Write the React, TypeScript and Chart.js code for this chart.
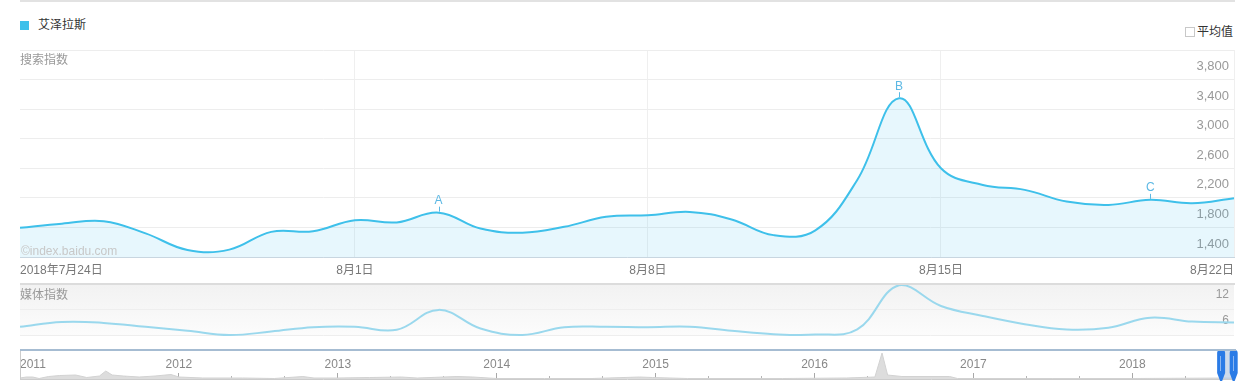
import React, { useEffect, useRef } from 'react';
import { Chart, registerables } from 'chart.js';

Chart.register(...registerables);

const FONT = 'Arial, "Liberation Sans", "Noto Sans CJK SC", sans-serif';
Chart.defaults.font.family = FONT;

// ---------- data ----------
const categories = [
  '7月24日', '7月25日', '7月26日', '7月27日', '7月28日', '7月29日', '7月30日', '7月31日',
  '8月1日', '8月2日', '8月3日', '8月4日', '8月5日', '8月6日', '8月7日', '8月8日',
  '8月9日', '8月10日', '8月11日', '8月12日', '8月13日', '8月14日', '8月15日', '8月16日',
  '8月17日', '8月18日', '8月19日', '8月20日', '8月21日', '8月22日',
];
const searchIndex = [
  1795, 1850, 1885, 1720, 1495, 1500, 1740, 1748, 1898, 1868,
  2000, 1785, 1728, 1808, 1943, 1966, 2010, 1908, 1696, 1760,
  2442, 3548, 2600, 2375, 2308, 2150, 2105, 2173, 2128, 2196,
];
const mediaIndex = [
  7.9, 9.0, 8.8, 7.9, 7.0, 6.0, 6.8, 7.8, 7.9, 7.2,
  11.8, 7.5, 6.0, 7.8, 7.9, 7.8, 7.9, 7.0, 6.2, 6.1,
  7.3, 17.5, 12.7, 10.4, 8.5, 7.3, 7.7, 10.0, 9.1, 8.9,
];
const labeledTickIndices = [0, 8, 15, 22, 29];
const firstTickPrefix = '2018年';
const searchAxis = { min: 1400, max: 4200, step: 400 };
const mediaTicks = [6, 12, 18];
const mediaAxis = { min: 4.62, max: 18 };
const flagIndices = [10, 21, 27];
const flagLabels = ['A', 'B', 'C'];

const navX = [
  2011.0, 2011.04, 2011.08, 2011.12, 2011.18, 2011.25, 2011.35, 2011.42, 2011.5, 2011.54,
  2011.58, 2011.65, 2011.75, 2011.85, 2011.95, 2012.0, 2012.15, 2012.4, 2012.6, 2012.78,
  2012.85, 2013.0, 2013.2, 2013.4, 2013.5, 2013.75, 2013.85, 2014.0, 2014.3, 2014.6,
  2014.9, 2014.98, 2015.2, 2015.8, 2016.2, 2016.38, 2016.425, 2016.46, 2016.55, 2016.85,
  2016.9, 2017.5, 2018.0, 2018.64,
];
const navValues = [
  1, 2, 2, 0.5, 2.5, 3.5, 4, 1.5, 3, 8,
  4, 3, 2, 3, 4.5, 2, 1, 1, 0.5, 2.5,
  1, 1, 1.5, 2, 1, 2.5, 2, 0.5, 0.5, 0.5,
  2, 1.5, 0.5, 0.5, 1, 2, 26, 4, 2.5, 2.5,
  0.5, 0.5, 0.5, 1,
];
const navYears = [2011, 2012, 2013, 2014, 2015, 2016, 2017, 2018];
const navRange = { min: 2011, max: 2018.64 };
const handleRange = { start: 2018.559, end: 2018.638 };

// ---------- helpers ----------
const fmt = (v: number) => String(v).replace(/\B(?=(\d{3})+(?!\d))/g, ',');

const flagPlugin = {
  id: 'flags',
  afterDatasetsDraw(chart: any) {
    const meta = chart.getDatasetMeta(0);
    const ctx = chart.ctx;
    ctx.save();
    ctx.strokeStyle = '#5cb8e4';
    ctx.fillStyle = '#5cb8e4';
    ctx.lineWidth = 1;
    ctx.font = '12px ' + FONT;
    ctx.textAlign = 'center';
    ctx.textBaseline = 'middle';
    flagIndices.forEach((idx, k) => {
      const p = meta.data[idx];
      if (!p) return;
      const x = Math.round(p.x) + 0.5;
      ctx.beginPath();
      ctx.moveTo(x, p.y - 1);
      ctx.lineTo(x, p.y - 6);
      ctx.stroke();
      ctx.fillText(flagLabels[k], p.x, p.y - 12);
    });
    ctx.restore();
  },
};

const handlePlugin = {
  id: 'handles',
  afterDraw(chart: any) {
    const xs = chart.scales.x;
    const ca = chart.chartArea;
    const ctx = chart.ctx;
    const x1 = xs.getPixelForValue(handleRange.start);
    const x2 = xs.getPixelForValue(handleRange.end);
    ctx.save();
    ctx.fillStyle = 'rgba(185,204,226,0.7)';
    ctx.fillRect(x1, ca.top, x2 - x1, ca.bottom - ca.top);
    const drawHandle = (cx: number) => {
      const w = 8;
      const l = cx - w / 2;
      const r = cx + w / 2;
      const top = ca.top - 1;
      const mid = ca.bottom - 6;
      const bot = ca.bottom + 2;
      const rad = 3;
      ctx.beginPath();
      ctx.moveTo(l, top + rad);
      ctx.quadraticCurveTo(l, top, l + rad, top);
      ctx.lineTo(r - rad, top);
      ctx.quadraticCurveTo(r, top, r, top + rad);
      ctx.lineTo(r, mid);
      ctx.lineTo(cx + 1, bot);
      ctx.lineTo(cx - 1, bot);
      ctx.lineTo(l, mid);
      ctx.closePath();
      ctx.fillStyle = '#2a7be6';
      ctx.fill();
      ctx.strokeStyle = 'rgba(255,255,255,0.45)';
      ctx.lineWidth = 1;
      ctx.beginPath();
      ctx.moveTo(Math.round(cx) - 0.5, top + 6);
      ctx.lineTo(Math.round(cx) - 0.5, mid - 2);
      ctx.stroke();
    };
    drawHandle(x1);
    drawHandle(x2);
    ctx.restore();
  },
};

const flatY = (s: any) => {
  s.width = 0;
  s.paddingTop = 0;
  s.paddingBottom = 0;
};

function useChart(ref: React.RefObject<HTMLCanvasElement>, make: (c: HTMLCanvasElement) => Chart) {
  useEffect(() => {
    if (!ref.current) return;
    const chart = make(ref.current);
    return () => chart.destroy();
  }, []);
}

export default function App() {
  const mainRef = useRef<HTMLCanvasElement>(null);
  const mediaRef = useRef<HTMLCanvasElement>(null);
  const navRef = useRef<HTMLCanvasElement>(null);

  useChart(mainRef as any, (c) =>
    new Chart(c, {
      type: 'line',
      data: {
        labels: categories,
        datasets: [
          {
            data: searchIndex,
            borderColor: '#3ec0ea',
            borderWidth: 2,
            backgroundColor: 'rgba(60,190,235,0.12)',
            fill: 'start',
            pointRadius: 0,
            tension: 0.4,
          },
        ],
      },
      options: {
        animation: false,
        responsive: false,
        maintainAspectRatio: false,
        layout: { padding: { left: 20, right: 14, top: 6, bottom: 0 } },
        plugins: { legend: { display: false }, tooltip: { enabled: false } },
        scales: {
          x: {
            grid: {
              color: (ctx: any) =>
                ctx.index > 0 && labeledTickIndices.includes(ctx.index) ? '#efefef' : 'rgba(0,0,0,0)',
              drawTicks: false,
            },
            border: { color: '#c8d6e0', width: 1 },
            ticks: {
              autoSkip: false,
              maxRotation: 0,
              minRotation: 0,
              align: 'inner',
              padding: 6,
              color: '#777',
              font: { size: 12 },
              callback: (_v: any, i: number) =>
                labeledTickIndices.includes(i) ? (i === 0 ? firstTickPrefix + categories[i] : categories[i]) : '',
            },
            afterFit: (s: any) => {
              s.height = 26;
            },
          },
          y: {
            position: 'right',
            min: searchAxis.min,
            max: searchAxis.max,
            ticks: {
              stepSize: searchAxis.step,
              mirror: true,
              padding: -5,
              labelOffset: -13,
              color: '#999',
              font: { size: 13 },
              callback: (v: any) => (v >= searchAxis.max ? '' : fmt(v)),
            },
            grid: { color: '#ededed', drawTicks: false },
            border: { display: false },
            afterFit: flatY,
          },
        },
      } as any,
      plugins: [flagPlugin],
    })
  );

  useChart(mediaRef as any, (c) =>
    new Chart(c, {
      type: 'line',
      data: {
        labels: categories,
        datasets: [
          {
            data: mediaIndex,
            borderColor: '#9ad8ed',
            borderWidth: 2,
            fill: false,
            pointRadius: 0,
            tension: 0.4,
          },
        ],
      },
      options: {
        animation: false,
        responsive: false,
        maintainAspectRatio: false,
        layout: { padding: { left: 20, right: 14, top: 0, bottom: 0 } },
        plugins: { legend: { display: false }, tooltip: { enabled: false } },
        scales: {
          x: { display: false },
          y: {
            position: 'right',
            min: mediaAxis.min,
            max: mediaAxis.max,
            afterBuildTicks: (s: any) => {
              s.ticks = mediaTicks.map((v) => ({ value: v }));
            },
            ticks: {
              mirror: true,
              padding: -5,
              labelOffset: -14,
              color: '#999',
              font: { size: 12 },
              callback: (v: any) => (v >= mediaAxis.max ? '' : String(v)),
            },
            grid: {
              color: (ctx: any) => (ctx.tick && ctx.tick.value >= mediaAxis.max ? 'rgba(0,0,0,0)' : '#eeeeee'),
              drawTicks: false,
            },
            border: { display: false },
            afterFit: flatY,
          },
        },
      } as any,
    })
  );

  useChart(navRef as any, (c) =>
    new Chart(c, {
      type: 'line',
      data: {
        datasets: [
          {
            data: navX.map((x, i) => ({ x, y: navValues[i] })),
            borderColor: '#d2d2d2',
            borderWidth: 1,
            backgroundColor: '#dddddd',
            fill: 'start',
            pointRadius: 0,
            tension: 0,
          },
        ],
      },
      options: {
        animation: false,
        responsive: false,
        maintainAspectRatio: false,
        layout: { padding: { left: 20, right: 14, top: 3, bottom: 0 } },
        plugins: { legend: { display: false }, tooltip: { enabled: false } },
        scales: {
          x: {
            type: 'linear',
            position: 'bottom',
            min: navRange.min,
            max: navRange.max,
            afterBuildTicks: (s: any) => {
              s.ticks = navYears.map((v) => ({ value: v })).concat([{ value: navRange.max }]);
            },
            ticks: {
              autoSkip: false,
              maxRotation: 0,
              align: 'inner',
              mirror: true,
              padding: 7,
              color: '#888',
              font: { size: 12 },
              callback: (v: any) => (navYears.includes(v) ? String(v) : ''),
            },
            grid: {
              drawOnChartArea: false,
              tickLength: -6,
              tickColor: (ctx: any) => (ctx.tick && navYears.includes(ctx.tick.value) ? '#a8a8a8' : 'rgba(0,0,0,0)'),
            },
            border: { color: '#cccccc' },
            afterFit: (s: any) => {
              s.height = 5;
              s.paddingLeft = 0;
              s.paddingRight = 0;
            },
          },
          xm: {
            type: 'linear',
            axis: 'x',
            position: { y: 0 },
            min: navRange.min,
            max: navRange.max,
            afterBuildTicks: (s: any) => {
              const t: any[] = [];
              navYears.forEach((y) => {
                [1 / 3, 2 / 3].forEach((f) => {
                  if (y + f <= navRange.max) t.push({ value: y + f });
                });
              });
              s.ticks = t;
            },
            ticks: { display: false },
            grid: { drawOnChartArea: false, tickLength: -3, tickColor: '#b5b5b5' },
            border: { display: false },
          },
          y: { display: false, min: 0, max: 28 },
        },
      } as any,
      plugins: [handlePlugin],
    })
  );

  const abs = (s: any): any => ({ position: 'absolute', ...s });
  const text = (s: any): any => ({
    position: 'absolute',
    fontSize: 12,
    lineHeight: '14px',
    whiteSpace: 'nowrap',
    fontFamily: FONT,
    ...s,
  });

  return (
    <div style={abs({ left: 0, top: 0, width: 1248, height: 384, overflow: 'hidden', background: '#fff' })}>
      <div style={abs({ left: 20, top: 0, width: 1215, height: 2, background: '#e2e2e2' })} />
      <div style={abs({ left: 20, top: 21, width: 9, height: 9, background: '#3ec0ea' })} />
      <div style={text({ left: 38, top: 18, color: '#333' })}>艾泽拉斯</div>
      <div
        style={abs({
          left: 1185,
          top: 27,
          width: 10,
          height: 10,
          border: '1px solid #c8c8c8',
          boxSizing: 'border-box',
          background: '#fff',
        })}
      />
      <div style={text({ left: 1197, top: 25, color: '#333' })}>平均值</div>

      <canvas ref={mainRef} width={1248} height={239} style={abs({ left: 0, top: 44, width: 1248, height: 239 })} />
      <div style={text({ left: 20, top: 53, color: '#999' })}>搜索指数</div>
      <div style={text({ left: 21, top: 244, color: '#c8c8c8' })}>©index.baidu.com</div>

      <div
        style={abs({
          left: 20,
          top: 285,
          width: 1214,
          height: 51,
          background: 'linear-gradient(#f2f2f2, #fcfcfc)',
        })}
      />
      <canvas ref={mediaRef} width={1248} height={58} style={abs({ left: 0, top: 283, width: 1248, height: 58 })} />
      <div style={abs({ left: 20, top: 283, width: 1215, height: 2, background: '#dcdcdc' })} />
      <div style={text({ left: 20, top: 288, color: '#999' })}>媒体指数</div>

      <canvas ref={navRef} width={1248} height={36} style={abs({ left: 0, top: 348, width: 1248, height: 36 })} />
      <div style={abs({ left: 20, top: 349, width: 1216, height: 2, background: '#a6bcd2' })} />
      <div style={abs({ left: 20, top: 351, width: 1, height: 28, background: '#cccccc' })} />
    </div>
  );
}
